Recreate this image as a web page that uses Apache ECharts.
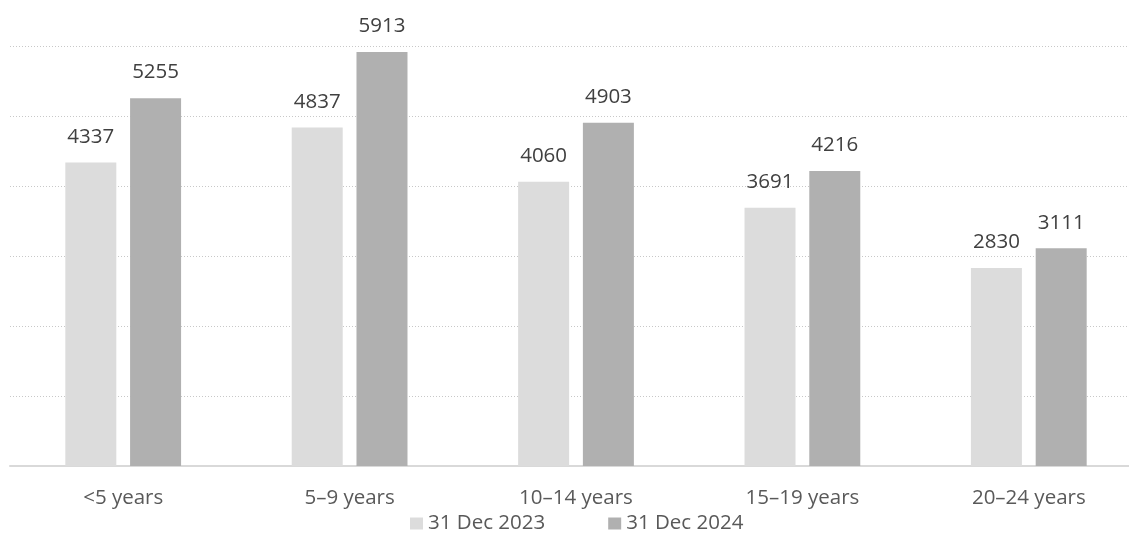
<!DOCTYPE html>
<html>
<head>
<meta charset="utf-8">
<script src="https://cdn.jsdelivr.net/npm/echarts@6/dist/echarts.min.js"></script>
<style>
  html, body { margin: 0; padding: 0; background: #ffffff; }
  #chart { width: 1129px; height: 540px; }
</style>
</head>
<body>
<div id="chart"></div>
<script>
// Age bands and headcounts at the two reporting dates
const categories = ['<5 years', '5\u20139 years', '10\u201314 years', '15\u201319 years', '20\u201324 years'];
const dec2023 = [4337, 4837, 4060, 3691, 2830];
const dec2024 = [5255, 5913, 4903, 4216, 3111];
const seriesNames = ['31 Dec 2023', '31 Dec 2024'];

const FONT = '"Open Sans", "Noto Sans", sans-serif';

const chart = echarts.init(document.getElementById('chart'), null, { renderer: 'canvas' });

const labelStyle = {
  show: true,
  position: 'top',
  distance: 15,
  color: '#404040',
  fontSize: 20.5,
  fontFamily: FONT
};

chart.setOption({
  animation: false,
  backgroundColor: '#ffffff',
  // plot area runs slightly past the right edge of the canvas
  grid: { left: 10, width: 1132, top: 46, height: 420, containLabel: false, outerBoundsMode: 'none' },
  legend: {
    data: seriesNames,
    left: 410,
    top: 513,
    padding: 0,
    itemWidth: 13,
    itemHeight: 12,
    itemGap: 63,
    icon: 'rect',
    textStyle: { color: '#595959', fontSize: 20.5, fontFamily: FONT }
  },
  xAxis: {
    type: 'category',
    data: categories,
    axisLine: { show: true, lineStyle: { color: '#d9d9d9', width: 2 } },
    axisTick: { show: false },
    axisLabel: { color: '#595959', fontSize: 20.5, fontFamily: FONT, margin: 22 }
  },
  yAxis: {
    type: 'value',
    min: 0,
    max: 6000,
    interval: 1000,
    axisLabel: { show: false },
    axisLine: { show: false },
    axisTick: { show: false },
    splitLine: { show: true, lineStyle: { color: '#c8c8c8', type: [1, 2], width: 1 } }
  },
  series: [
    {
      name: seriesNames[0],
      type: 'bar',
      data: dec2023,
      barWidth: 51,
      barGap: '27%',
      itemStyle: { color: '#dcdcdc' },
      label: labelStyle
    },
    {
      name: seriesNames[1],
      type: 'bar',
      data: dec2024,
      barWidth: 51,
      barGap: '27%',
      itemStyle: { color: '#b0b0b0' },
      label: labelStyle
    }
  ]
});
</script>
</body>
</html>
